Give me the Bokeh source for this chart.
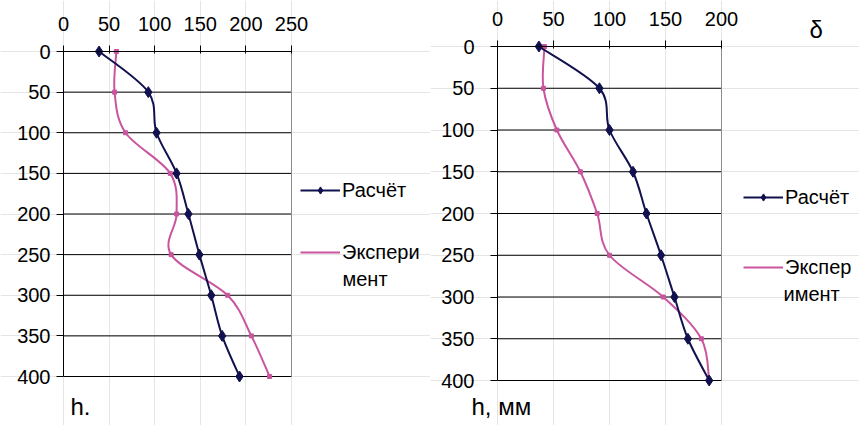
from bokeh.plotting import figure
from bokeh.layouts import row
from bokeh.models import (Range1d, SingleIntervalTicker, Legend, LegendItem, Label, LinearAxis)
from bokeh.embed import file_html
from bokeh.resources import INLINE

# ---- data ----
h = [0, 50, 100, 150, 200, 250, 300, 350, 400]
calc_left = [39, 93, 102, 124, 137, 149, 162, 174, 193]
exp_left = [58, 56, 68, 117, 124, 118, 180, 206, 226]
calc_right = [37, 91, 100, 121, 133, 146, 158, 170, 189]
exp_right = [42, 41, 53, 74, 89, 100, 148, 182, 189]
x_max_left = 250
x_max_right = 200
h_max = 400
series_names = ["Расчёт", "Эксперимент"]

NAVY = "#11114f"
PINK = "#c9559e"
FONT = "Liberation Sans"
FIG_H = 425


def smooth_segments(xs, ys, t=1/6):
    n = len(xs)
    x0, y0, x1, y1, cx0, cy0, cx1, cy1 = ([] for _ in range(8))
    for i in range(n - 1):
        pm = max(i - 1, 0)
        pp = min(i + 2, n - 1)
        x0.append(xs[i]); y0.append(ys[i])
        x1.append(xs[i + 1]); y1.append(ys[i + 1])
        cx0.append(xs[i] + (xs[i + 1] - xs[pm]) * t)
        cy0.append(ys[i] + (ys[i + 1] - ys[pm]) * t)
        cx1.append(xs[i + 1] - (xs[pp] - xs[i]) * t)
        cy1.append(ys[i + 1] - (ys[pp] - ys[i]) * t)
    return dict(x0=x0, y0=y0, x1=x1, y1=y1, cx0=cx0, cy0=cy0, cx1=cx1, cy1=cy1)


def make_chart(W, L, R, T, B, xmax, calc, exp, ylab_standoff):
    # plot area occupies pixels [L, R] x [T, B] inside a full-size frame
    sx = (R - L) / xmax
    sy = (B - T) / h_max
    p = figure(width=W, height=FIG_H, output_backend="svg", toolbar_location=None,
               x_range=Range1d(-L / sx, xmax + (W - R) / sx),
               y_range=Range1d(h_max + (FIG_H - B) / sy, -T / sy),
               x_axis_location=None, y_axis_location=None,
               min_border=0, min_border_left=0, min_border_right=0,
               min_border_top=0, min_border_bottom=0)
    p.background_fill_color = "white"
    p.border_fill_color = "white"
    p.outline_line_color = None

    xaxis = LinearAxis(fixed_location=0, bounds=(0, xmax),
                       ticker=SingleIntervalTicker(interval=50))
    yaxis = LinearAxis(fixed_location=0, bounds=(0, h_max),
                       ticker=SingleIntervalTicker(interval=50))
    for ax in (xaxis, yaxis):
        ax.axis_line_color = "black"
        ax.axis_line_width = 1
        ax.major_tick_line_color = "black"
        ax.minor_tick_line_color = None
        ax.major_label_text_font = FONT
        ax.major_label_text_font_size = "20px"
        ax.major_label_text_color = "black"
    xaxis.major_tick_out = 6
    xaxis.major_tick_in = 2
    xaxis.major_label_standoff = 15
    yaxis.major_tick_out = 7
    yaxis.major_tick_in = 0
    yaxis.major_label_standoff = ylab_standoff
    p.add_layout(xaxis, "above")
    p.add_layout(yaxis, "left")

    # horizontal grid lines at the tick values, and the plot-area right border
    p.segment(x0=[0] * len(h), x1=[xmax] * len(h), y0=h, y1=h, line_color="black", line_width=1)
    p.segment(x0=[xmax], x1=[xmax], y0=[0], y1=[h_max], line_color="#8c8c8c", line_width=1)

    eb = p.bezier(source=smooth_segments(exp, h), x0="x0", y0="y0", x1="x1", y1="y1",
                  cx0="cx0", cy0="cy0", cx1="cx1", cy1="cy1", line_color=PINK, line_width=2)
    p.scatter(exp, h, marker="square", size=4, color=PINK)
    cb = p.bezier(source=smooth_segments(calc, h), x0="x0", y0="y0", x1="x1", y1="y1",
                  cx0="cx0", cy0="cy0", cx1="cx1", cy1="cy1", line_color=NAVY, line_width=2)
    cs = p.scatter(calc, h, marker="diamond", size=11, color=NAVY)
    return p, [cb, cs], [eb]


def add_legend(p, label, renderers, px_x, px_cy):
    item_h = 26
    lg = Legend(items=[LegendItem(label=label, renderers=renderers)],
                location=(px_x, FIG_H - (px_cy + item_h / 2)), padding=0, margin=0,
                glyph_width=40, glyph_height=18, label_height=item_h,
                label_standoff=2, label_text_font=FONT, label_text_font_size="20px",
                label_text_color="black", label_text_baseline="middle",
                border_line_alpha=0, background_fill_alpha=0)
    p.add_layout(lg, "center")


def add_text(p, text, px_x, px_cy, size="20px"):
    p.add_layout(Label(x=px_x, y=FIG_H - px_cy, x_units="screen", y_units="screen",
                       text=text, text_font=FONT, text_font_size=size,
                       text_color="black", text_baseline="middle", text_align="left"))


# ---- left chart ----
p1, r_calc, r_exp = make_chart(430, 63, 291, 51, 376, x_max_left, calc_left, exp_left, 6)
add_legend(p1, series_names[0], r_calc, 300, 190)
add_legend(p1, "Экспери", r_exp, 300, 252)
add_text(p1, "мент", 342, 278)
add_text(p1, "h.", 70, 406, "24px")

# ---- right chart ----
p2, r_calc, r_exp = make_chart(429, 67, 291, 46, 380, x_max_right, calc_right, exp_right, 16)
add_legend(p2, series_names[0], r_calc, 313, 197)
add_legend(p2, "Экспер", r_exp, 313, 267)
add_text(p2, "имент", 353, 293)
add_text(p2, "h, мм", 41, 406, "24px")
add_text(p2, "δ", 379, 29, "24px")

layout = row(p1, p2, spacing=0)
open("out.html", "w").write(file_html(layout, INLINE))
